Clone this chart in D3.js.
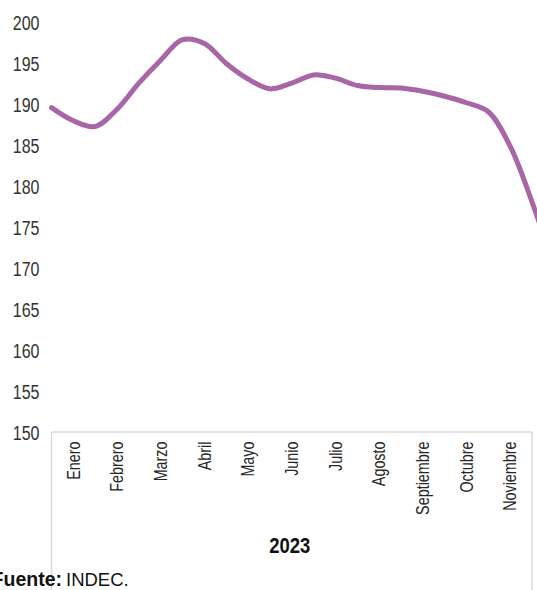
<!DOCTYPE html>
<html>
<head>
<meta charset="utf-8">
<script src="https://cdn.jsdelivr.net/npm/d3@7"></script>
<style>
  html, body { margin: 0; padding: 0; background: #fff; overflow: hidden; }
  svg { display: block; }
</style>
</head>
<body>
<div id="chart"></div>
<script>
// ---- Data ----
const months = ["Enero", "Febrero", "Marzo", "Abril", "Mayo", "Junio", "Julio",
                "Agosto", "Septiembre", "Octubre", "Noviembre"];
const yearLabel = "2023";
const yTicks = [150, 155, 160, 165, 170, 175, 180, 185, 190, 195, 200];
// position of each observation, in months from the start of Enero
const periods = [0, 0.5, 1, 1.5, 2, 2.5, 3, 3.5, 4, 4.5, 5, 5.5, 6, 6.5, 7, 7.5,
                 8, 8.5, 9, 9.5, 10, 10.5, 11, 11.5];
const values = [189.6, 188.0, 187.3, 189.4, 192.6, 195.4, 197.9, 197.45, 195.0, 193.1,
                191.9, 192.6, 193.6, 193.2, 192.3, 192.05, 192.0, 191.6, 191.0, 190.2,
                189.1, 184.9, 178.1, 170.2];
const sourceBold = "Fuente:";
const sourceText = "INDEC.";

// ---- Layout ----
const W = 537, H = 590;
const mLeft = 51.5, mRight = 532, mTop = 22.5, mBottom = 432;
const condensed = "'Liberation Sans', Arial, sans-serif";

const svg = d3.select("#chart").append("svg")
  .attr("width", W).attr("height", H)
  .attr("viewBox", `0 0 ${W} ${H}`);

const x = d3.scaleLinear().domain([0, months.length]).range([mLeft, mRight]);
const xBand = d3.scaleBand().domain(months).range([mLeft, mRight]).padding(0);
const y = d3.scaleLinear().domain([150, 200]).range([mBottom, mTop]);

// y axis labels (no line)
const yAxis = d3.axisLeft(y).tickValues(yTicks).tickSize(0).tickPadding(0).tickFormat(d3.format("d"));
const gy = svg.append("g").attr("transform", `translate(39.5,0)`).call(yAxis);
gy.select(".domain").remove();
gy.selectAll("text")
  .attr("font-family", condensed)
  .attr("font-size", 20)
  .attr("fill", "#333")
  .attr("dy", "0.36em")
  .attr("transform", "scale(0.8,1)");

// category box (light gray)
const boxColor = "#d9d9d9";
svg.append("line").attr("x1", mLeft).attr("x2", mRight).attr("y1", mBottom).attr("y2", mBottom)
  .attr("stroke", boxColor).attr("stroke-width", 1.5);
svg.append("line").attr("x1", mLeft).attr("x2", mLeft).attr("y1", mBottom).attr("y2", H)
  .attr("stroke", boxColor).attr("stroke-width", 1.5);
svg.append("line").attr("x1", mRight).attr("x2", mRight).attr("y1", mBottom).attr("y2", H)
  .attr("stroke", boxColor).attr("stroke-width", 1.5);

// month labels
svg.append("g").selectAll("text").data(months).join("text")
  .attr("transform", d => `translate(${xBand(d) + xBand.bandwidth() / 2},441.5) rotate(-90) scale(0.82,1)`)
  .attr("text-anchor", "end")
  .attr("dy", "0.36em")
  .attr("font-family", condensed)
  .attr("font-size", 17.5)
  .attr("fill", "#262626")
  .text(d => d);

// year label
svg.append("text")
  .attr("transform", `translate(${(mLeft + mRight) / 2 - 2},553) scale(0.84,1)`)
  .attr("text-anchor", "middle")
  .attr("font-family", condensed)
  .attr("font-weight", "bold")
  .attr("font-size", 22)
  .attr("fill", "#111")
  .text(yearLabel);

// line
const pts = periods.map((p, i) => ({ p, v: values[i] }));
const line = d3.line().x(d => x(d.p)).y(d => y(d.v)).curve(d3.curveCatmullRom.alpha(0.5));
svg.append("path").datum(pts)
  .attr("d", line)
  .attr("fill", "none")
  .attr("stroke", "#a866a6")
  .attr("stroke-width", 5)
  .attr("stroke-linecap", "round")
  .attr("stroke-linejoin", "round");

// source
svg.append("text")
  .attr("x", 62).attr("y", 586)
  .attr("text-anchor", "end")
  .attr("font-family", "'Liberation Sans', Arial, sans-serif")
  .attr("font-weight", "bold")
  .attr("font-size", 19.5)
  .attr("fill", "#111")
  .text(sourceBold);
svg.append("text")
  .attr("x", 66).attr("y", 586)
  .attr("font-family", "'Liberation Sans', Arial, sans-serif")
  .attr("font-size", 18.5)
  .attr("fill", "#111")
  .text(sourceText);
</script>
</body>
</html>
